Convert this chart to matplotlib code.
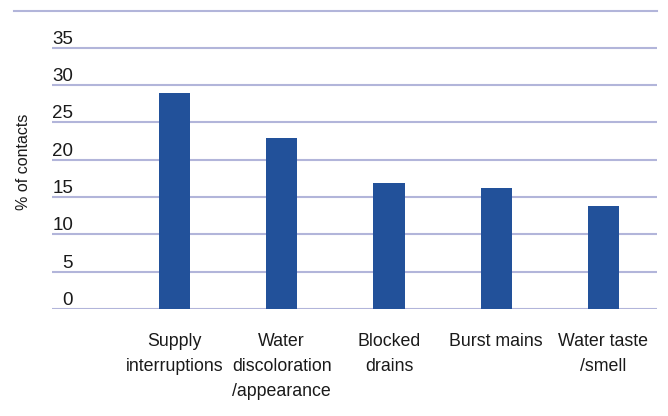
import matplotlib.pyplot as plt
from matplotlib.transforms import blended_transform_factory, offset_copy

plt.rcParams["font.family"] = ["Liberation Sans", "DejaVu Sans"]

categories = ["Supply\ninterruptions", "Water\ndiscoloration\n/appearance",
              "Blocked\ndrains", "Burst mains", "Water taste\n/smell"]
values = [28.9, 22.9, 16.9, 16.2, 13.8]
yticks = [0, 5, 10, 15, 20, 25, 30, 35]

bar_color = "#22519A"
grid_color = "#B2B5DA"

fig = plt.figure(figsize=(6.68, 4.16), dpi=100)
ax = fig.add_axes([52 / 668, 1 - 309 / 416, 605 / 668, 298.5 / 416])

x = list(range(len(categories)))
ax.bar(x, values, width=0.29, color=bar_color, zorder=3)

# horizontal gridlines, the top one reaches further left
for v in yticks:
    ax.axhline(v, color=grid_color, lw=1.5, zorder=1)
ax.axhline(40, xmin=(14 - 52) / 605, xmax=1, color=grid_color, lw=1.5,
           clip_on=False, zorder=1)

ax.set_xlim(-1.143, 4.5)
ax.set_ylim(0, 40)

# value labels sit just above each gridline
trans = blended_transform_factory(fig.transFigure, ax.transData)
trans = offset_copy(trans, fig=fig, y=4, units="dots")
for v in yticks:
    ax.text(73 / 668, v, str(v), transform=trans, ha="right", va="baseline",
            fontsize=13.5, color="#1a1a1a")

ax.set_yticks([])
ax.set_xticks(x)
ax.set_xticklabels(categories, fontsize=12.8, linespacing=1.62, color="#1a1a1a")
ax.tick_params(axis="x", length=0, pad=17)

for s in ax.spines.values():
    s.set_visible(False)

fig.text(24 / 668, 1 - 162 / 416, "% of contacts", rotation=90,
         ha="center", va="center", fontsize=11.5, color="#1a1a1a")

fig.savefig("out.png", dpi=100)
